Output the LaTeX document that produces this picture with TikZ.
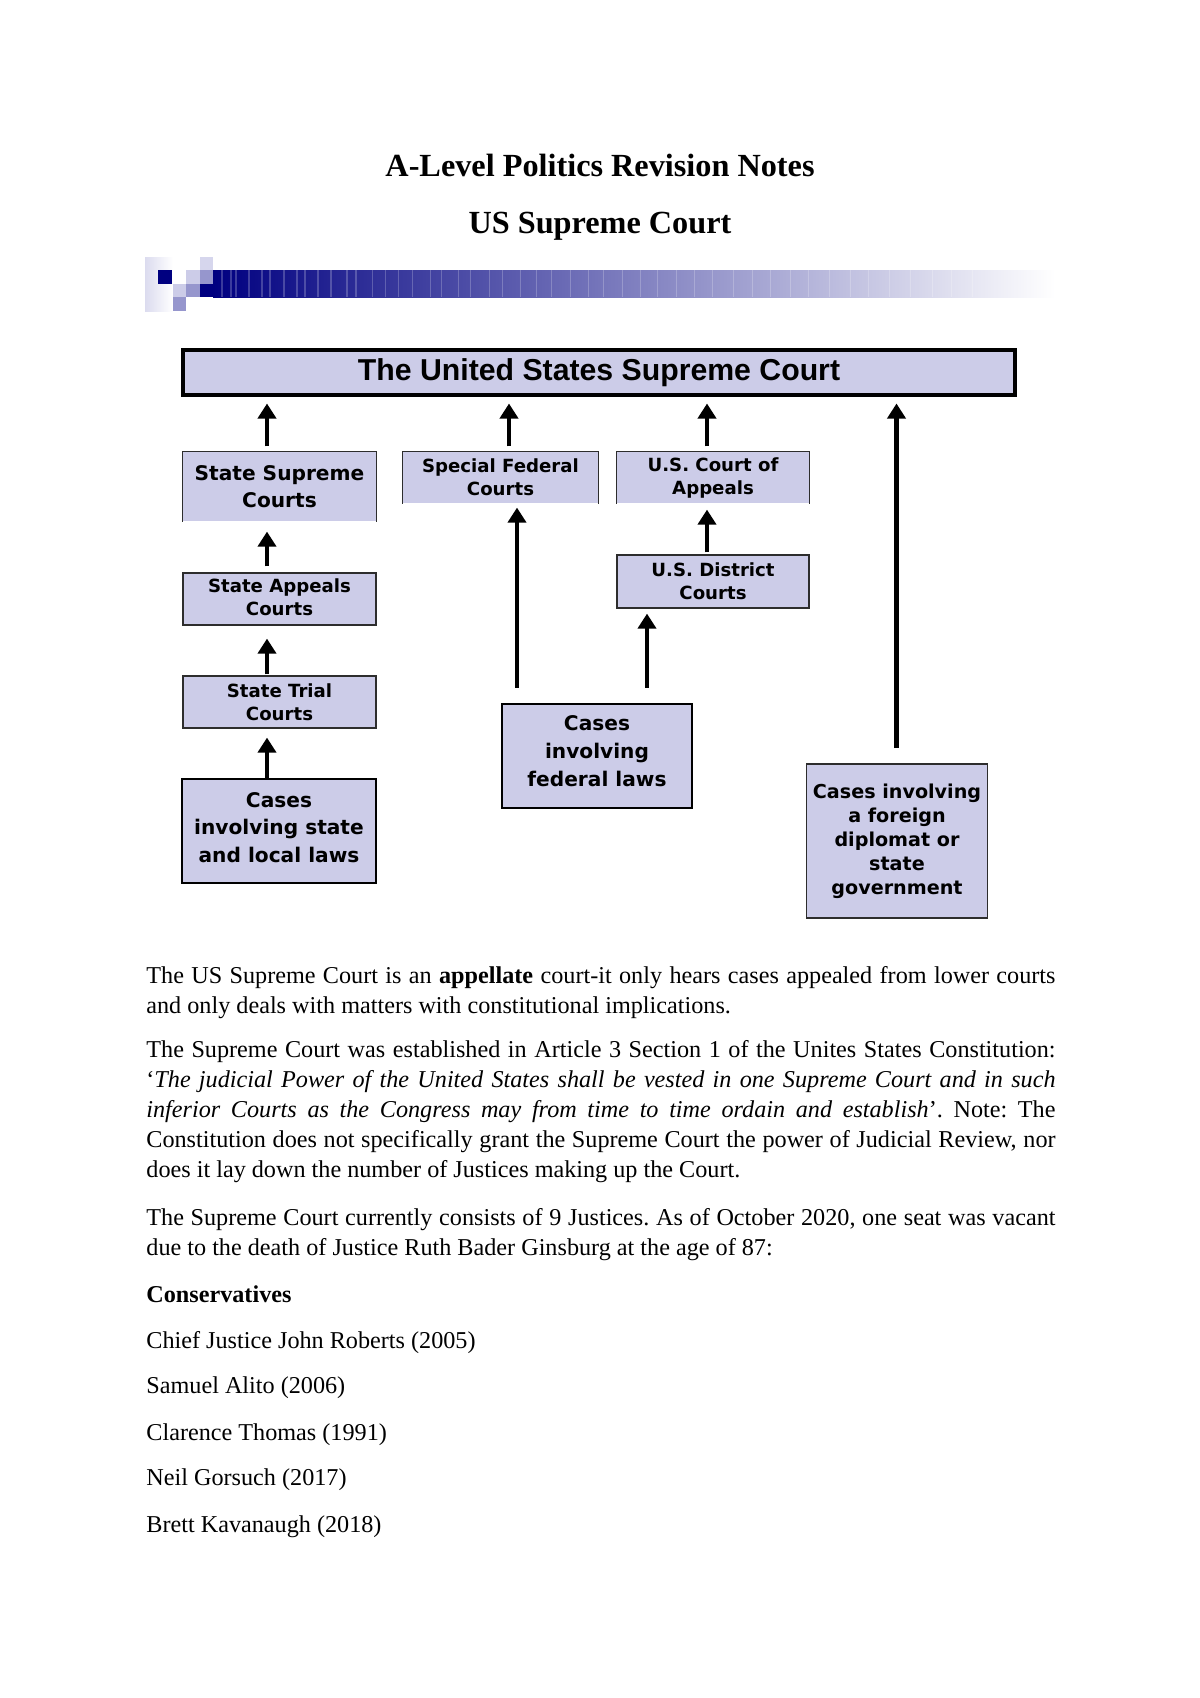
\documentclass[tikz,border=0pt]{standalone}
\usepackage{fontspec}
\setmainfont{Liberation Serif}
\newfontfamily\boxfont{DejaVu Sans}
\newfontfamily\headfont{Liberation Sans}
\usetikzlibrary{arrows.meta,calc}
\definecolor{lavender}{RGB}{204,204,232}
\definecolor{midlav}{RGB}{150,150,205}
\definecolor{navybar}{RGB}{0,0,128}
\definecolor{boxline}{RGB}{45,45,45}
\hyphenpenalty=10000
\exhyphenpenalty=10000
\tolerance=9999
\frenchspacing
\tikzset{
  box size/.style 2 args={minimum width=#1*0.49606pt, minimum height=#2*0.49606pt},
  court/.style={draw=boxline, line width=0.6pt, fill=lavender, align=center,
                inner sep=0pt, font=\boxfont\bfseries\fontsize{9pt}{11.4pt}\selectfont},
  open court/.style={court, draw=none},
  cases/.style={court, draw=black, line width=1.4pt,
                font=\boxfont\bfseries\fontsize{10pt}{13.7pt}\selectfont},
  uparr/.style={line width=2.3pt, -{Triangle[width=9pt,length=7.5pt]}},
  body/.style={anchor=base west, inner sep=0pt, text width=451pt, align=justify,
               font=\fontsize{12pt}{14.9pt}\selectfont},
  heading/.style={anchor=base, inner sep=0pt, font=\bfseries\fontsize{16pt}{19pt}\selectfont}
}

\begin{document}
\begin{tikzpicture}[x=0.49606pt, y=-0.49606pt]
\useasboundingbox (0,0) rectangle (1200,1698);

\node[heading] (title) at (600,176) {A-Level Politics Revision Notes};
\node[heading] (subtitle) at (600,233) {US Supreme Court};

% the banner
\fill[left color=lavender!70, right color=white] (145,257) rectangle (173,311);
\fill[lavender!80] (200,257) rectangle (213,270);
\fill[lavender] (186,270) rectangle (200,284);
\fill[midlav] (200,270) rectangle (213,284);
\fill[lavender] (173,284) rectangle (186,297);
\fill[midlav] (186,284) rectangle (200,297);
\fill[midlav] (173,297) rectangle (186,311);
\fill[navybar] (158,270) rectangle (172,284);
\fill[navybar] (200,284) rectangle (213,297);
\shade[left color=navybar, right color=white] (213,270) rectangle (1055,297);
\foreach \x in {222,231,236,249,262,270,284,297,305,318,331,347,356,372,385,398,
                412,430,441,458,470,489,502,520,536,551,570,588,603,622,640,657,
                676,694,712,733,752,770,790,808,829,850,868,889,910,932,951,972}
  \draw[white, opacity=.22, line width=0.5pt] (\x,270) -- (\x,297);

% the courts
\node[court, box size={832}{45}, draw=black, line width=1.5pt,
      font=\headfont\bfseries\fontsize{15pt}{18pt}\selectfont]
      (usc) at (599,372.5) {The United States Supreme Court};
\node[open court, box size={193}{69},
      font=\boxfont\bfseries\fontsize{10pt}{13.7pt}\selectfont]
      (ssc) at (279.5,486.5) {State Supreme\\Courts};
\node[open court, box size={195}{51}] (sfc) at (500.5,477.5) {Special Federal\\Courts};
\node[open court, box size={192}{51}] (uca) at (713,477.5) {U.S. Court of\\Appeals};
\node[court, box size={192}{53}] (udc) at (713,581.5) {U.S. District\\Courts};
\node[court, box size={193}{52}, text depth=1.5pt] (sac) at (279.5,599) {State Appeals\\Courts};
\node[court, box size={193}{52}] (stc) at (279.5,702) {State Trial\\Courts};
\node[cases, box size={194}{104}, text depth=3.8pt] (csl) at (279,831)
      {Cases\\involving state\\and local laws};
\node[cases, box size={190}{104}, line width=1.2pt, text depth=5pt] (cfl) at (597,756)
      {Cases\\involving\\federal laws};
\node[court, box size={181}{154}, line width=0.9pt,
      font=\boxfont\bfseries\fontsize{9.5pt}{11.9pt}\selectfont]
      (cfd) at (897,841) {Cases involving\\a foreign\\diplomat or\\state\\government};
\foreach \n in {ssc,sfc,uca}
  \draw[boxline, line width=0.6pt] (\n.south west) |- (\n.north east) -- (\n.south east);

% the appeals
\draw[uparr] ($(ssc.north)+(-12.5,-5)$) -- ($(ssc.north |- usc.south)+(-12.5,7)$);
\draw[uparr] ($(sfc.north)+(8.5,-5)$) -- ($(sfc.north |- usc.south)+(8.5,7)$);
\draw[uparr] ($(uca.north)+(-6,-5)$) -- ($(uca.north |- usc.south)+(-6,7)$);
\draw[uparr] ($(cfd.north)+(-0.5,-15)$) -- ($(cfd.north |- usc.south)+(-0.5,7)$);
\draw[uparr] ($(sac.north)+(-12.5,-6)$) -- ($(ssc.south)+(-12.5,10)$);
\draw[uparr] ($(stc.north)+(-12.5,-1)$) -- ($(sac.south)+(-12.5,13)$);
\draw[uparr] ($(csl.north)+(-12,0)$) -- ($(stc.south)+(-12.5,9)$);
\draw[uparr] ($(cfl.north)+(-80,-15)$) -- ($(cfl.north |- sfc.south)+(-80,4)$);
\draw[uparr] ($(cfl.north)+(50,-15)$) -- ($(cfl.north |- udc.south)+(50,5)$);
\draw[uparr] ($(udc.north)+(-6,-2)$) -- ($(uca.south)+(-6,6)$);

% the notes
\node[body] (p1) at (146,983) {The US Supreme Court is an \textbf{appellate}
  court-it only hears cases appealed from lower courts\linebreak
  and only deals with matters with constitutional implications.};
\node[body] (p2) at (146,1057) {The Supreme Court was established in Article 3
  Section 1 of the Unites States Constitution:\linebreak
  ‘\textit{The judicial Power of the United States shall be vested in one Supreme
  Court and in such\linebreak inferior Courts as the Congress may from time to time
  ordain and establish}’. Note: The\linebreak
  Constitution does not specifically grant the Supreme Court the power of Judicial
  Review, nor\linebreak does it lay down the number of Justices making up the Court.};
\node[body] (p3) at (146,1225) {The Supreme Court currently consists of 9 Justices.
  As of October 2020, one seat was vacant\linebreak
  due to the death of Justice Ruth Bader Ginsburg at the age of 87:};
\node[body] (cons) at (146,1302) {\textbf{Conservatives}};
\foreach \name/\y in {Chief Justice John Roberts (2005)/1348, Samuel Alito (2006)/1393,
                      Clarence Thomas (1991)/1440, Neil Gorsuch (2017)/1485,
                      Brett Kavanaugh (2018)/1532}
  \node[body] at (146,\y) {\name};
\end{tikzpicture}
\end{document}
